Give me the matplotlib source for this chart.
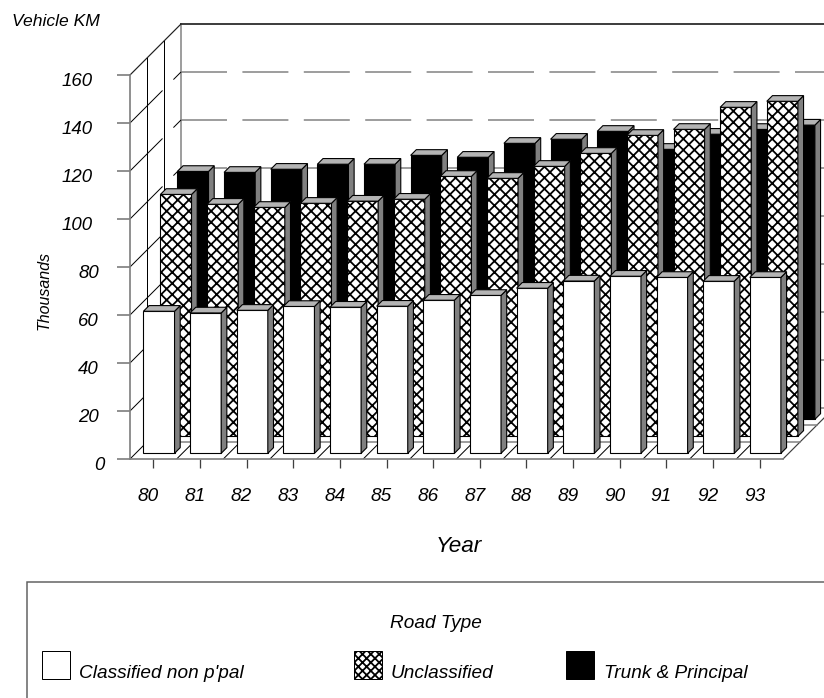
import matplotlib
matplotlib.use('Agg')
import matplotlib.pyplot as plt
from matplotlib.patches import Polygon, Rectangle
from matplotlib.transforms import ScaledTranslation

W, H, DPI = 824, 698, 100

years = ['80', '81', '82', '83', '84', '85', '86', '87', '88', '89', '90', '91', '92', '93']
y_ticks = [0, 20, 40, 60, 80, 100, 120, 140, 160]

classified = [59.2, 58.5, 59.6, 61.2, 60.9, 61.3, 63.8, 65.8, 68.8, 71.8, 73.8, 73.3, 71.7, 73.3]
unclassified = [100.8, 96.7, 95.4, 97.1, 98.0, 98.8, 108.3, 107.5, 112.5, 117.9, 125.4, 127.9, 137.1, 139.6]
trunk = [103.3, 102.9, 104.2, 106.3, 106.3, 110.0, 109.2, 115.0, 116.7, 120.0, 112.5, 118.8, 120.8, 122.6]


def fx(px):
    return px / W


def fy(py):
    return 1 - py / H


def pts(px):
    return px * 72 / DPI


plt.rcParams['font.family'] = ['Liberation Sans', 'DejaVu Sans']
plt.rcParams['font.style'] = 'italic'
plt.rcParams['lines.scale_dashes'] = False
plt.rcParams['hatch.linewidth'] = pts(1.8)

GRAY = '#808080'
LIGHT = '#b4b4b4'
DASH = (0, (pts(46), pts(15.4)))

fig = plt.figure(figsize=(W / DPI, H / DPI), dpi=DPI)
ax = fig.add_axes([fx(130), fy(459), (783 - 130) / W, (459 - 75) / H])
ax.set_xlim(0, len(years))
ax.set_ylim(0, 160)

# oblique depth of the whole chart, in data units (51 px each way)
depth_x = 51 / (653 / len(years))
depth_y = 51 / (384 / 160)


def project(x, v, d):
    return x + d * depth_x, v + d * depth_y


def line3d(p0, p1, **kw):
    a = project(*p0)
    b = project(*p1)
    kw.setdefault('clip_on', False)
    kw.setdefault('zorder', 1)
    ax.plot([a[0], b[0]], [a[1], b[1]], **kw)


def draw_bar(i, value, series, face, hatch=None):
    x0 = i + 1 / 6
    x1 = i + 5 / 6
    d0 = (series + 1 / 3) / 3
    d1 = (series + 2 / 3) / 3
    faces = [
        ([(x0, 0, d0), (x1, 0, d0), (x1, value, d0), (x0, value, d0)], face, hatch),
        ([(x1, 0, d0), (x1, 0, d1), (x1, value, d1), (x1, value, d0)], GRAY, None),
        ([(x0, value, d0), (x1, value, d0), (x1, value, d1), (x0, value, d1)], LIGHT, None),
    ]
    for corners, color, h in faces:
        ax.add_patch(Polygon([project(*c) for c in corners], closed=True, facecolor=color,
                             edgecolor='black', hatch=h, linewidth=pts(1.1),
                             clip_on=False, zorder=3 + series * -0.5))


# back wall
n = len(years)
line3d((0, 0, 1), (0, 160, 1), color=GRAY, lw=pts(1.5))
line3d((0, 160, 1), (n, 160, 1), color='#404040', lw=pts(2))
for v in y_ticks[:-1]:
    line3d((0, v, 1), (n, v, 1), color=GRAY, lw=pts(1.5), linestyle=DASH)

# left wall
for v in y_ticks[:-1]:
    line3d((0, v, 0), (0, v, 1), color='black', lw=pts(1), linestyle=DASH)
line3d((0, 160, 0), (0, 160, 1), color='#202020', lw=pts(1.2))
for d in [1 / 3, 2 / 3]:
    line3d((0, 0, d), (0, 160, d), color='black', lw=pts(1))

# floor
for i in range(1, n):
    line3d((i, 0, 0), (i, 0, 1), color='black', lw=pts(1), linestyle=DASH)
line3d((n, 0, 0), (n, 0, 1), color='#404040', lw=pts(1.2))
for d in [1 / 3, 2 / 3]:
    line3d((0, 0, d), (n, 0, d), color=GRAY, lw=pts(1.5))

for i in range(n):
    draw_bar(i, trunk[i], 2, 'black')
for i in range(n):
    draw_bar(i, unclassified[i], 1, 'white', 'xxx')
for i in range(n):
    draw_bar(i, classified[i], 0, 'white')

# axes
for side in ['top', 'right']:
    ax.spines[side].set_visible(False)
for side in ['left', 'bottom']:
    ax.spines[side].set_color(GRAY)
    ax.spines[side].set_linewidth(pts(1.7))
ax.patch.set_visible(False)

ax.set_xticks([i + 0.5 for i in range(n)])
ax.set_xticklabels(years)
ax.set_yticks(y_ticks)
ax.set_yticklabels([str(v) for v in y_ticks])
ax.tick_params(axis='x', length=pts(9), width=pts(1.3), color='#404040', labelsize=pts(19), pad=pts(20))
ax.tick_params(axis='y', length=pts(13), width=pts(1.7), color=GRAY, labelsize=pts(18.7), pad=pts(13))
for lab in ax.get_xticklabels():
    lab.set_transform(lab.get_transform() + ScaledTranslation(-5 / DPI, 0, fig.dpi_scale_trans))
for lab in ax.get_yticklabels():
    # the labels are not flush on the right in the original
    shift = -6 * (len(lab.get_text()) - 3) - 11
    lab.set_transform(lab.get_transform() + ScaledTranslation(shift / DPI, -4 / DPI, fig.dpi_scale_trans))

fig.text(fx(12), fy(21), 'Vehicle KM', fontsize=pts(17.5), va='center', ha='left')
fig.text(fx(44), fy(290), 'Thousands', fontsize=pts(16), rotation=90, va='center', ha='center')
fig.text(fx(459), fy(546), 'Year', fontsize=pts(22.5), va='center', ha='center')

# legend box, runs off the right and bottom of the picture
fig.add_artist(Rectangle((fx(27), fy(720)), fx(900), fy(582) - fy(720), transform=fig.transFigure,
                         facecolor='none', edgecolor='#606060', linewidth=pts(1.5)))
fig.text(fx(436), fy(624), 'Road Type', fontsize=pts(19), va='center', ha='center')

legend_items = [
    (42, 'white', None, "Classified non p'pal", 79),
    (354, 'white', 'xxxx', 'Unclassified', 391),
    (566, 'black', None, 'Trunk & Principal', 604),
]
for x, color, hatch, label, tx in legend_items:
    fig.add_artist(Rectangle((fx(x), fy(679)), 28 / W, 28 / H, transform=fig.transFigure,
                             facecolor=color, edgecolor='black', hatch=hatch, linewidth=pts(1)))
    fig.text(fx(tx), fy(674), label, fontsize=pts(19), va='center', ha='left')

fig.savefig('out.png', dpi=DPI)
